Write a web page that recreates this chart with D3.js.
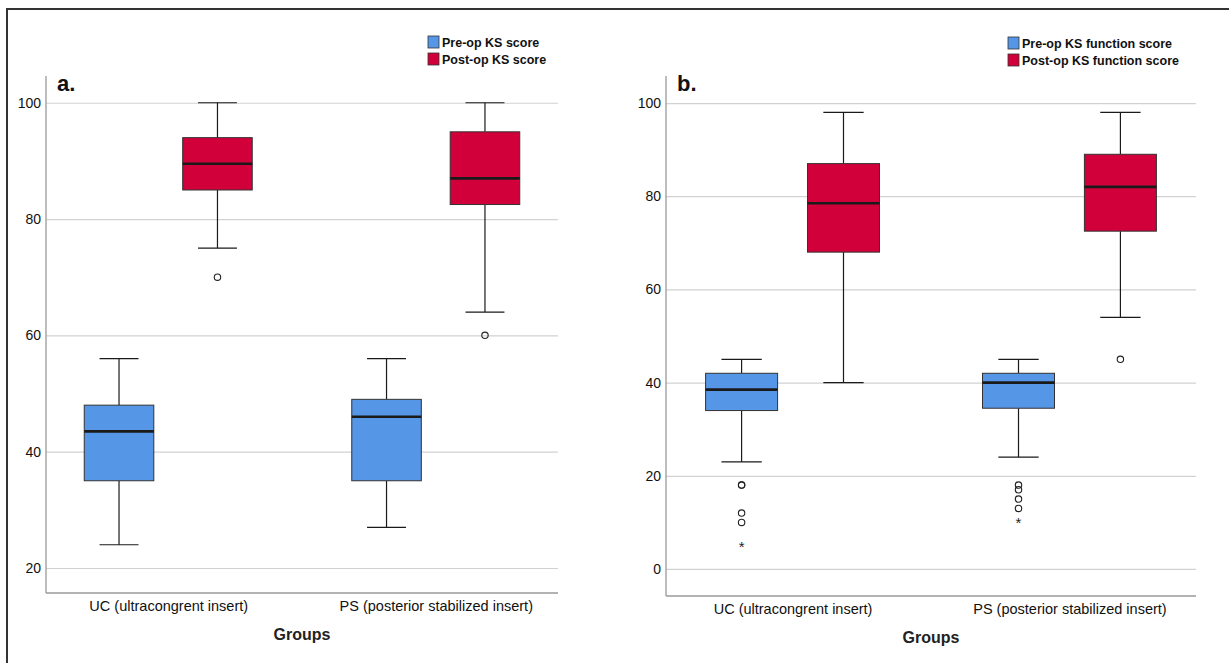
<!DOCTYPE html>
<html><head><meta charset="utf-8">
<script src="https://cdn.jsdelivr.net/npm/d3@7"></script>
<style>
html,body{margin:0;padding:0;background:#fff;}
text{font-family:"Liberation Sans",Arial,sans-serif;}
</style></head>
<body>
<svg id="c" width="1229" height="663"></svg>
<script>
// ---- data ----
const groups = ["UC (ultracongrent insert)", "PS (posterior stabilized insert)"];
const seriesA = ["Pre-op KS score", "Post-op KS score"];
const seriesB = ["Pre-op KS function score", "Post-op KS function score"];
const ticksA = [20, 40, 60, 80, 100];
const ticksB = [0, 20, 40, 60, 80, 100];
// [min, q1, median, q3, max] per group
const ksPre  = [[24, 35, 43.5, 48, 56], [27, 35, 46, 49, 56]];
const ksPost = [[75, 85, 89.5, 94, 100], [64, 82.5, 87, 95, 100]];
const ksPreOut  = [[], []];
const ksPostOut = [[70], [60]];
const ksPreExt  = [[], []];
const ksPostExt = [[], []];
const fnPre  = [[23, 34, 38.5, 42, 45], [24, 34.5, 40, 42, 45]];
const fnPost = [[40, 68, 78.5, 87, 98], [54, 72.5, 82, 89, 98]];
const fnPreOut  = [[18, 18, 12, 10], [18, 17, 15, 13]];
const fnPostOut = [[], [45]];
const fnPreExt  = [[5], [10]];
const fnPostExt = [[], []];

const colors = ["#5596e6", "#d2003a"];
const svg = d3.select("#c");

// outer frame
svg.append("line").attr("x1",7).attr("x2",7).attr("y1",9).attr("y2",663).attr("stroke","#333").attr("stroke-width",2);
svg.append("line").attr("x1",6).attr("x2",1229).attr("y1",9).attr("y2",9).attr("stroke","#333").attr("stroke-width",2);

const FONT = "'Liberation Sans',Arial,sans-serif";

function panel(cfg) {
  const g = svg.append("g");
  const x = d3.scalePoint().domain(groups).range([cfg.x0, cfg.x1]).padding(0.457);
  const y = d3.scaleLinear().domain(cfg.yDom).range([cfg.yBot, cfg.yTop]);
  const step = x.step();
  const offs = [-0.184, 0.184];
  const w = 0.26 * step;

  // gridlines + y labels
  const ax = g.append("g").attr("transform", `translate(${cfg.x0},0)`)
    .call(d3.axisLeft(y).tickValues(cfg.ticks).tickSize(-(cfg.x1 - cfg.x0)).tickPadding(5).tickFormat(d3.format("d")));
  ax.select(".domain").remove();
  ax.selectAll(".tick line").attr("stroke", "#d2d2d2").attr("stroke-width", 1.2);
  ax.selectAll(".tick text").attr("font-size", 14).attr("fill", "#111").style("font-family", FONT);

  // axis lines
  g.append("line").attr("x1", cfg.x0).attr("x2", cfg.x0).attr("y1", cfg.yTop).attr("y2", cfg.yBot).attr("stroke", "#9a9a9a").attr("stroke-width", 1.3);
  g.append("line").attr("x1", cfg.x0).attr("x2", cfg.x1).attr("y1", cfg.yBot).attr("y2", cfg.yBot).attr("stroke", "#9a9a9a").attr("stroke-width", 1.3);

  // x labels
  const xa = g.append("g").attr("transform", `translate(0,${cfg.yBot})`)
    .call(d3.axisBottom(x).tickSize(0).tickPadding(8));
  xa.select(".domain").remove();
  xa.selectAll(".tick text").attr("font-size", 14.5).attr("fill", "#111").style("font-family", FONT);

  g.append("text").attr("x", (cfg.x0 + cfg.x1) / 2).attr("y", cfg.yBot + 47).attr("text-anchor", "middle")
    .attr("font-size", 16).attr("font-weight", "bold").attr("fill", "#222").text("Groups");
  g.append("text").attr("x", cfg.x0 + 11).attr("y", cfg.yTop + 15).attr("font-size", 22).attr("font-weight", "bold").attr("fill", "#111").text(cfg.letter);

  cfg.series.forEach((s, si) => {
    const st = cfg.stats[si], outs = cfg.outs[si], exts = cfg.exts[si];
    groups.forEach((gr, gi) => {
      const [mn, q1, md, q3, mx] = st[gi];
      const cx = x(gr) + offs[si] * step;
      const cap = w * 0.56;
      const line = (x1, y1, x2, y2, sw) => g.append("line").attr("x1", x1).attr("y1", y1).attr("x2", x2).attr("y2", y2)
        .attr("stroke", "#1a1a1a").attr("stroke-width", sw || 1.2);
      line(cx, y(mx), cx, y(q3));
      line(cx, y(q1), cx, y(mn));
      line(cx - cap / 2, y(mx), cx + cap / 2, y(mx));
      line(cx - cap / 2, y(mn), cx + cap / 2, y(mn));
      g.append("rect").attr("x", cx - w / 2).attr("y", y(q3)).attr("width", w).attr("height", y(q1) - y(q3))
        .attr("fill", colors[si]).attr("stroke", "#333").attr("stroke-width", 1);
      line(cx - w / 2, y(md), cx + w / 2, y(md), 2.6);
      outs[gi].forEach(v => g.append("circle").attr("cx", cx).attr("cy", y(v)).attr("r", 3.2)
        .attr("fill", "none").attr("stroke", "#222").attr("stroke-width", 1.1));
      exts[gi].forEach(v => g.append("text").attr("x", cx).attr("y", y(v) + 6).attr("text-anchor", "middle")
        .attr("font-size", 15).attr("fill", "#222").text("*"));
    });
  });

  // legend
  cfg.series.forEach((s, si) => {
    const ly = cfg.legY + si * 17;
    g.append("rect").attr("x", cfg.legX).attr("y", ly).attr("width", 11).attr("height", 12)
      .attr("fill", colors[si]).attr("stroke", "#333").attr("stroke-width", 0.8);
    g.append("text").attr("x", cfg.legX + 14).attr("y", ly + 10.5).attr("font-size", 12.5).attr("font-weight", "bold")
      .attr("fill", "#111").text(s);
  });
}

panel({x0: 46, x1: 558, yTop: 76, yBot: 593, yDom: [15.7, 104.6], ticks: ticksA, letter: "a.",
  series: seriesA, stats: [ksPre, ksPost], outs: [ksPreOut, ksPostOut], exts: [ksPreExt, ksPostExt], legX: 428, legY: 36});
panel({x0: 666, x1: 1196, yTop: 76, yBot: 596, yDom: [-5.8, 105.8], ticks: ticksB, letter: "b.",
  series: seriesB, stats: [fnPre, fnPost], outs: [fnPreOut, fnPostOut], exts: [fnPreExt, fnPostExt], legX: 1008, legY: 37});
</script>
</body></html>
